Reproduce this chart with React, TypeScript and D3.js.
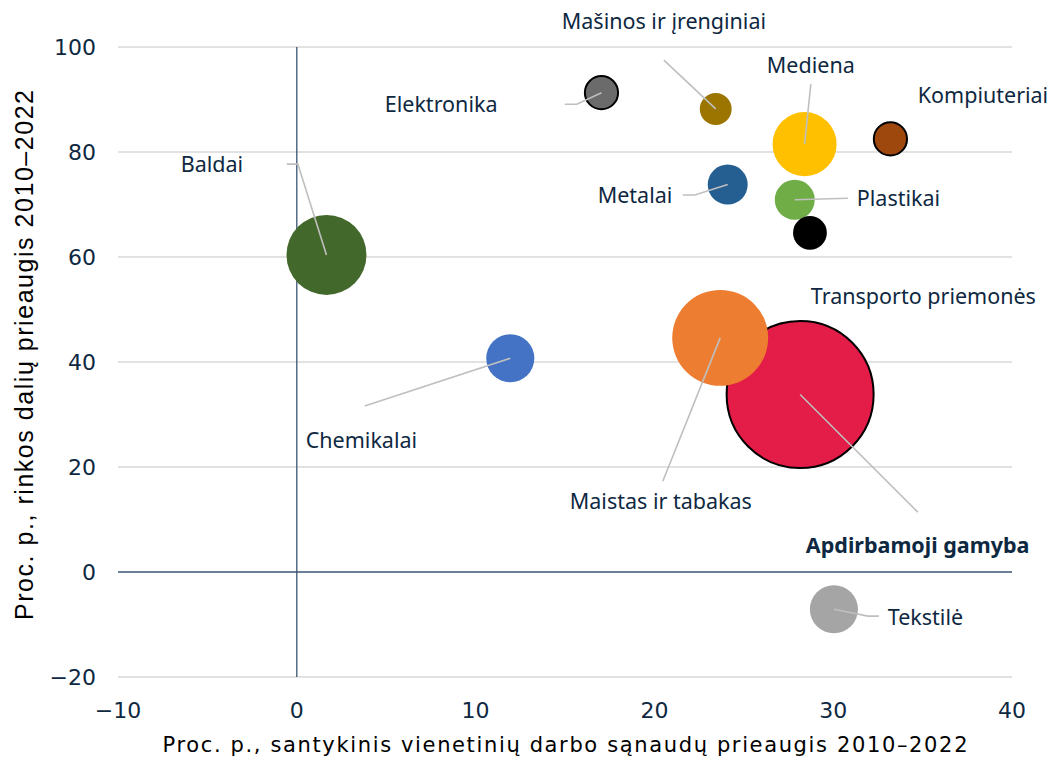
import React from "react";
import * as d3 from "d3";

const W = 1056;
const H = 761;

// Sectors (drawing order: biggest first)
const sectors = [
  "Apdirbamoji gamyba",
  "Baldai",
  "Chemikalai",
  "Maistas ir tabakas",
  "Elektronika",
  "Mašinos ir įrenginiai",
  "Mediena",
  "Kompiuteriai",
  "Metalai",
  "Plastikai",
  "Transporto priemonės",
  "Tekstilė",
];
const xValues = [28.15, 1.66, 11.94, 23.68, 17.04, 23.43, 28.4, 33.2, 24.1, 27.85, 28.7, 30.04];
const yValues = [33.8, 60.4, 40.7, 44.6, 91.3, 88.2, 81.5, 82.5, 73.8, 70.9, 64.6, -7.1];
const sizes = [100, 29.6, 10.7, 42.6, 5.1, 4.7, 19, 5.1, 7.4, 7.4, 5.3, 10.7];
const colors = [
  "#E31C48", "#43682B", "#4472C4", "#ED7D31", "#6B6B6B", "#9C7500",
  "#FFC000", "#9E480E", "#255E91", "#70AD47", "#000000", "#A5A5A5",
];
const outlined = [true, false, false, false, true, false, false, true, false, false, false, false];

// Labels: text, x, y (data units), bold
const labelTexts = [
  "Apdirbamoji gamyba", "Baldai", "Chemikalai", "Maistas ir tabakas", "Elektronika",
  "Mašinos ir įrenginiai", "Mediena", "Kompiuteriai", "Metalai", "Plastikai",
  "Transporto priemonės", "Tekstilė",
];
const labelX = [28.47, -6.49, 0.5, 15.27, 4.92, 14.82, 26.29, 34.73, 16.83, 31.32, 28.75, 33.05];
const labelY = [5.0, 77.7, 25.0, 13.5, 89.1, 104.8, 96.4, 90.7, 71.8, 71.2, 52.4, -8.6];
const labelBold = [true, false, false, false, false, false, false, false, false, false, false, false];

// Leader line waypoints (data units) ending at the bubble centre
const leaders: [number, number][][] = [
  [[34.73, 11.4]],
  [[-0.56, 77.7], [0.06, 77.7]],
  [[3.8, 31.6]],
  [[20.47, 17.3]],
  [[14.99, 89.1], [15.66, 89.1]],
  [[20.53, 97.5]],
  [[28.75, 92.95]],
  [],
  [[21.59, 71.8], [22.26, 71.8]],
  [[30.82, 71.2]],
  [],
  [[32.55, -8.4], [31.94, -8.4]],
];

const xTicks = [-10, 0, 10, 20, 30, 40];
const yTicks = [-20, 0, 20, 40, 60, 80, 100];

const xTitle = "Proc. p., santykinis vienetinių darbo sąnaudų prieaugis 2010–2022";
const yTitle = "Proc. p., rinkos dalių prieaugis 2010–2022";

export default function App() {
  const x = d3.scaleLinear().domain([-10, 40]).range([118, 1012]);
  const y = d3.scaleLinear().domain([-20, 100]).range([677, 47]);
  const r = d3.scaleSqrt().domain([0, 100]).range([0, 73.5]);
  const line = d3.line<[number, number]>().x((d) => x(d[0])).y((d) => y(d[1]));
  const navy = "#0E2841";
  const fmt = (v: number) => (v < 0 ? "\u2212" + Math.abs(v) : String(v));

  return (
    <svg width={W} height={H} style={{ position: "absolute", left: 0, top: 0, background: "#fff" }}>
      {/* gridlines */}
      {yTicks.filter((t) => t !== 0).map((t) => (
        <line key={t} x1={x(-10)} x2={x(40)} y1={y(t)} y2={y(t)} stroke="#D9D9D9" strokeWidth={1.3} />
      ))}
      {/* zero lines */}
      <line x1={x(-10)} x2={x(40)} y1={y(0)} y2={y(0)} stroke="#3A5573" strokeWidth={1.3} />
      <line x1={x(0)} x2={x(0)} y1={y(100)} y2={y(-20)} stroke="#3A5573" strokeWidth={1.3} />

      {/* y tick labels */}
      {yTicks.map((t) => (
        <text key={t} x={96} y={y(t)} dy="0.35em" textAnchor="end" fill={navy}
          style={{ fontFamily: "DejaVu Sans", fontSize: 22 }}>{fmt(t)}</text>
      ))}
      {/* x tick labels */}
      {xTicks.map((t) => (
        <text key={t} x={x(t)} y={718} textAnchor="middle" fill={navy}
          style={{ fontFamily: "DejaVu Sans", fontSize: 22 }}>{fmt(t)}</text>
      ))}

      {/* axis titles */}
      <text x={565} y={752} textAnchor="middle" fill="#000" textLength={805} lengthAdjust="spacing"
        style={{ fontFamily: "DejaVu Sans", fontSize: 21 }}>{xTitle}</text>
      <text transform={`translate(33,355) rotate(-90)`} textAnchor="middle" fill="#000"
        textLength={530} lengthAdjust="spacing"
        style={{ fontFamily: "Liberation Sans", fontSize: 25 }}>{yTitle}</text>

      {/* bubbles */}
      {sectors.map((s, i) => (
        <circle key={s} cx={x(xValues[i])} cy={y(yValues[i])} r={r(sizes[i])}
          fill={colors[i]} stroke={outlined[i] ? "#000" : "none"} strokeWidth={2} />
      ))}

      {/* leader lines */}
      {sectors.map((s, i) =>
        leaders[i].length ? (
          <path key={"l" + s} d={line([...leaders[i], [xValues[i], yValues[i]]]) || ""}
            fill="none" stroke="#BFBFBF" strokeWidth={1.6} />
        ) : null
      )}

      {/* labels */}
      {labelTexts.map((t, i) => (
        <text key={"t" + t} x={x(labelX[i])} y={y(labelY[i])} dy="0.35em" fill={navy}
          style={{ fontFamily: "Noto Sans", fontSize: 21.5, fontWeight: labelBold[i] ? 700 : 400 }}>{t}</text>
      ))}
    </svg>
  );
}
